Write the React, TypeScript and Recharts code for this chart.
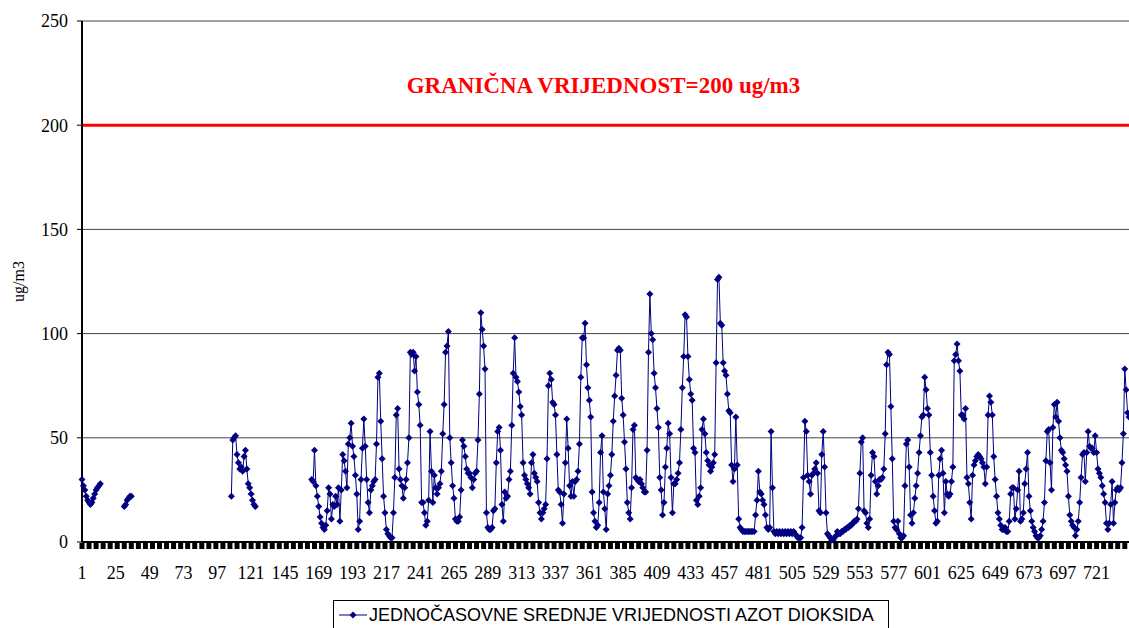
import { LineChart, Line, XAxis, YAxis, CartesianGrid, ReferenceLine, Legend } from 'recharts'

// hourly NO2, one array per day (24 h), null = no measurement
const n = null
const day01 = [30, 27, 25, 22, 20, 19, 18, 19, 21, 23, 25, 26, 27, 28, n, n, n, n, n, n, n, n, n, n]
const day02 = [n, n, n, n, n, n, 17, 18, 20, 21, 22, 22, n, n, n, n, n, n, n, n, n, n, n, n]
const day03 = [n, n, n, n, n, n, n, n, n, n, n, n, n, n, n, n, n, n, n, n, n, n, n, n]
const day04 = [n, n, n, n, n, n, n, n, n, n, n, n, n, n, n, n, n, n, n, n, n, n, n, n]
const day05 = [n, n, n, n, n, n, n, n, n, n, 22, 49, 50, 51, 42, 38, 35, 36, 34, 41, 44, 35, 28, 26]
const day06 = [23, 20, 18, 17, n, n, n, n, n, n, n, n, n, n, n, n, n, n, n, n, n, n, n, n]
const day07 = [n, n, n, n, n, n, n, n, n, n, n, n, n, n, n, n, n, n, n, 30, 29, 44, 27, 22]
const day08 = [17, 12, 9, 7, 6, 8, 15, 26, 23, 11, 18, 17, 22, 18, 26, 10, 25, 42, 39, 34, 26, 47, 50, 57]
const day09 = [46, 41, 32, 23, 6, 10, 30, 45, 59, 46, 30, 19, 14, 25, 27, 29, 30, 47, 79, 81, 58, 40, 22, 14]
const day10 = [6, 4, 3, 2, 2, 14, 31, 61, 64, 35, 30, 27, 21, 26, 30, 38, 50, 91, 90, 91, 82, 89, 72, 66]
const day11 = [56, 19, 19, 14, 8, 10, 20, 53, 34, 19, 32, 26, 23, 26, 28, 34, 52, 66, 91, 94, 101, 50, 38, 27]
const day12 = [21, 11, 10, 10, 12, 25, 49, 46, 41, 35, 33, 33, 31, 26, 30, 33, 34, 49, 71, 110, 102, 94, 83, 14]
const day13 = [7, 6, 6, 7, 15, 16, 38, 53, 55, 44, 18, 10, 24, 21, 22, 30, 34, 56, 81, 98, 79, 77, 72, 65]
const day14 = [61, 38, 32, 30, 28, 26, 23, 38, 42, 33, 31, 29, 19, 14, 11, 14, 16, 18, 40, 75, 81, 78, 67, 66]
const day15 = [61, 42, 25, 24, 18, 9, 23, 38, 59, 45, 27, 22, 29, 22, 29, 30, 34, 47, 79, 98, 98, 105, 85, 74]
const day16 = [68, 60, 24, 14, 10, 7, 8, 19, 43, 51, 24, 16, 6, 23, 27, 32, 42, 58, 70, 80, 92, 93, 92, 69]
const day17 = [61, 48, 35, 19, 14, 11, 26, 54, 56, 31, 30, 29, 30, 28, 26, 24, 24, 44, 91, 119, 100, 97, 81, 74]
const day18 = [64, 55, 31, 25, 13, 19, 36, 45, 57, 52, 31, 14, 28, 28, 30, 33, 38, 54, 74, 89, 109, 108, 89, 78]
const day19 = [71, 68, 45, 43, 20, 18, 22, 26, 54, 59, 52, 43, 39, 37, 34, 36, 38, 42, 86, 126, 127, 105, 104, 86]
const day20 = [82, 80, 71, 63, 62, 37, 29, 35, 60, 37, 11, 7, 6, 5, 5, 5, 5, 5, 5, 5, 5, 5, 13, 20]
const day21 = [34, 24, 23, 20, 18, 13, 7, 6, 7, 53, 26, 5, 4, 5, 4, 5, 4, 5, 4, 5, 4, 5, 4, 5]
const day22 = [4, 5, 4, 3, 2, 2, 2, 7, 31, 58, 53, 32, 29, 23, 32, 33, 35, 38, 33, 15, 14, 42, 53, 36]
const day23 = [14, 4, 3, 2, 1, 1, 2, 3, 5, 4, 4, 5, 5, 6, 6, 7, 7, 8, 8, 9, 10, 10, 11, 16]
const day24 = [33, 48, 50, 15, 14, 9, 7, 11, 32, 43, 41, 29, 23, 27, 30, 30, 31, 35, 52, 85, 91, 90, 65, 40]
const day25 = [10, 7, 6, 10, 4, 2, 2, 3, 27, 47, 49, 36, 13, 9, 14, 21, 27, 33, 43, 51, 60, 61, 79, 73]
const day26 = [64, 61, 43, 32, 22, 15, 9, 10, 32, 40, 44, 33, 14, 29, 23, 22, 23, 29, 36, 87, 90, 95, 87, 82]
const day27 = [61, 61, 59, 64, 31, 28, 19, 11, 32, 37, 39, 41, 42, 41, 40, 38, 36, 28, 36, 61, 70, 67, 61, 41]
const day28 = [30, 22, 14, 11, 8, 6, 6, 7, 5, 5, 10, 23, 26, 26, 11, 16, 25, 34, 10, 11, 14, 28, 35, 43]
const day29 = [22, 15, 10, 7, 5, 3, 2, 2, 3, 6, 10, 19, 39, 53, 54, 38, 25, 55, 66, 60, 67, 58, 50, 44]
const day30 = [43, 40, 37, 34, 22, 13, 10, 8, 7, 3, 6, 10, 19, 31, 42, 43, 29, 43, 53, 46, 45, 45, 43, 51]
const day31 = [43, 35, 33, 31, 27, 23, 19, 9, 6, 9, 18, 29, 9, 19, 25, 26, 25, 26, 38, 52, 83, 73, 62, 60]

const days = [
  day01, day02, day03, day04, day05, day06, day07, day08, day09, day10, day11,
  day12, day13, day14, day15, day16, day17, day18, day19, day20, day21, day22,
  day23, day24, day25, day26, day27, day28, day29, day30, day31,
]

const tickLabels = [1, 25, 49, 73, 97, 121, 145, 169, 193, 217, 241, 265, 289, 313, 337, 361, 385, 409, 433, 457, 481, 505, 529, 553, 577, 601, 625, 649, 673, 697, 721]
const yTicks = [0, 50, 100, 150, 200, 250]
const limitValue = 200

const data = days.flat().map((v, i) => ({ hour: i + 1, no2: v }))

const NAVY = '#000080'
const SERIF = '"Liberation Serif", "Times New Roman", serif'

function Diamond({ cx, cy }: any) {
  if (!Number.isFinite(cx) || !Number.isFinite(cy)) return null
  const r = 3.5
  return <polygon points={`${cx},${cy - r} ${cx + r},${cy} ${cx},${cy + r} ${cx - r},${cy}`} fill={NAVY} />
}

function HourTick({ x, y, payload }: any) {
  const h = payload.value
  return (
    <g>
      {(h - 1) % 5 === 0 && <rect x={x - 2.5} y={y + 1} width={5} height={6} fill="#000" />}
      {tickLabels.includes(h) && (
        <text x={x} y={y + 37} textAnchor="middle" fontFamily={SERIF} fontSize={18} fill="#000">{h}</text>
      )}
    </g>
  )
}

function YTitle({ viewBox }: any) {
  const cx = viewBox.x + 18
  const cy = viewBox.y + viewBox.height / 2
  return (
    <text x={cx} y={cy} transform={`rotate(-90, ${cx}, ${cy})`} textAnchor="middle" dominantBaseline="central" fontFamily={SERIF} fontSize={16} fill="#000">
      ug/m3
    </text>
  )
}

function LegendBox() {
  return (
    <div style={{ boxSizing: 'border-box', width: 556, height: 40, border: '1px solid #000', background: '#fff', display: 'flex', alignItems: 'flex-start', paddingTop: 4 }}>
      <svg width={32} height={20} style={{ marginLeft: 3 }}>
        <line x1={2} y1={10} x2={30} y2={10} stroke={NAVY} strokeWidth={1} />
        <polygon points="16,6.5 19.5,10 16,13.5 12.5,10" fill={NAVY} />
      </svg>
      <span style={{ fontFamily: '"Liberation Sans", Arial, sans-serif', fontSize: 18, lineHeight: '20px', color: '#000' }}>
        JEDNOČASOVNE SREDNJE VRIJEDNOSTI AZOT DIOKSIDA
      </span>
    </div>
  )
}

export default function App() {
  return (
    <div style={{ position: 'absolute', left: 0, top: 0, width: 1129, height: 628, overflow: 'hidden', background: '#fff' }}>
      <LineChart width={1129} height={628} data={data} margin={{ top: 21, right: 0, bottom: 0, left: 0 }}>
        <CartesianGrid vertical={false} stroke="#444" strokeWidth={1} />
        <XAxis
          dataKey="hour"
          interval={0}
          height={86}
          tickSize={0}
          tickMargin={0}
          tickLine={false}
          tick={<HourTick />}
          axisLine={{ stroke: '#000', strokeWidth: 2 }}
        />
        <YAxis
          domain={[0, 250]}
          ticks={yTicks}
          width={82}
          tickSize={5}
          tickMargin={9}
          tick={{ fontFamily: SERIF, fontSize: 18, fill: '#000' }}
          tickLine={{ stroke: '#000' }}
          axisLine={{ stroke: '#000', strokeWidth: 2 }}
          label={<YTitle />}
        />
        <ReferenceLine
          y={limitValue}
          stroke="#ff0000"
          strokeWidth={3}
          label={{ value: 'GRANIČNA VRIJEDNOST=200 ug/m3', position: 'top', offset: 32, dx: -2, fill: '#ff0000', fontSize: 23, fontWeight: 'bold', fontFamily: SERIF }}
        />
        <Line type="linear" dataKey="no2" stroke={NAVY} strokeWidth={1} dot={<Diamond />} activeDot={false} isAnimationActive={false} />
        <Legend layout="vertical" verticalAlign="middle" align="center" wrapperStyle={{ left: 333, top: 600, width: 556 }} content={<LegendBox />} />
      </LineChart>
    </div>
  )
}
